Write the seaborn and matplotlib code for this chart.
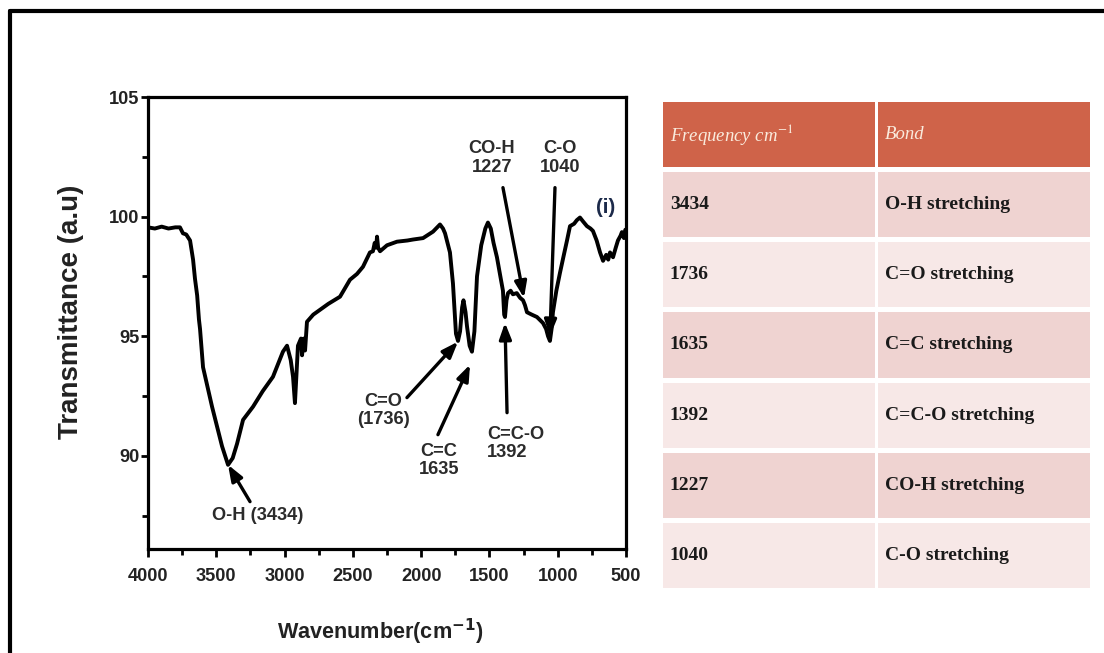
import matplotlib
matplotlib.use("Agg")
import matplotlib.pyplot as plt
from matplotlib import font_manager as fm
from matplotlib.patches import Rectangle
from matplotlib.lines import Line2D
from matplotlib.ticker import MultipleLocator
import seaborn as sns

# ---------------- data ----------------
wavenumber = [4000, 3950, 3900, 3850, 3800, 3766, 3744, 3720, 3692, 3670, 3656, 3640, 3627, 3619,
              3597, 3531, 3458, 3414, 3380, 3348, 3304, 3231, 3160, 3085, 3012, 2982, 2955, 2938,
              2924, 2912, 2902, 2880, 2872, 2860, 2850, 2836, 2790, 2741, 2680, 2594, 2521, 2470,
              2426, 2375, 2353, 2340, 2330, 2323, 2315, 2301, 2250, 2177, 2100, 2060, 1986, 1913,
              1862, 1840, 1825, 1789, 1767, 1745, 1730, 1715, 1700, 1690, 1675, 1664, 1645, 1628,
              1610, 1591, 1560, 1530, 1511, 1490, 1470, 1445, 1420, 1401, 1392, 1386, 1375, 1364,
              1345, 1328, 1300, 1275, 1254, 1240, 1225, 1190, 1152, 1108, 1085, 1071, 1057, 1045,
              1035, 1010, 983, 955, 932, 910, 880, 860, 837, 815, 786, 760, 742, 715, 690, 668,
              645, 630, 617, 595, 575, 559, 540, 530, 515, 505]
transmittance = [99.55, 99.5, 99.58, 99.5, 99.55, 99.55, 99.3, 99.25, 99.0, 98.2, 97.4, 96.7, 95.7, 95.3,
                 93.7, 92.05, 90.4, 89.62, 89.9, 90.5, 91.5, 92.05, 92.7, 93.3, 94.35, 94.6, 94.0, 93.3,
                 92.2, 93.5, 94.6, 94.9, 94.2, 94.9, 94.4, 95.6, 95.9, 96.1, 96.35, 96.65, 97.36, 97.6,
                 97.9, 98.5, 98.55, 98.9, 98.7, 99.16, 98.7, 98.55, 98.8, 98.95, 99.0, 99.04, 99.1, 99.37,
                 99.67, 99.5, 99.3, 98.5, 97.2, 95.1, 94.8, 95.2, 96.2, 96.5, 96.0, 95.4, 94.6, 94.35,
                 95.2, 97.5, 98.8, 99.5, 99.75, 99.5, 98.9, 98.3, 97.5, 96.9, 95.9, 95.8, 96.5, 96.8,
                 96.9, 96.75, 96.8, 96.6, 96.5, 96.3, 96.0, 95.9, 95.8, 95.55, 95.3, 95.0, 94.8, 95.3,
                 96.0, 96.9, 97.66, 98.4, 99.0, 99.6, 99.7, 99.85, 99.96, 99.8, 99.6, 99.5, 99.4, 99.0,
                 98.5, 98.15, 98.4, 98.2, 98.5, 98.3, 98.7, 99.0, 99.2, 99.35, 99.1, 99.45]

peak_labels = ["O-H (3434)", "C=O\n(1736)", "C=C\n1635", "C=C-O\n1392", "CO-H\n1227", "C-O\n1040"]
peak_wn = [3414, 1730, 1642, 1386, 1247, 1057]
peak_t = [89.62, 94.77, 93.81, 95.56, 96.6, 95.0]

table_header = ["Frequency cm$^{-1}$", "Bond"]
table_freq = ["3434", "1736", "1635", "1392", "1227", "1040"]
table_bond = ["O-H stretching", "C=O stretching", "C=C stretching",
              "C=C-O stretching", "CO-H stretching", "C-O stretching"]

x_label = "Wavenumber(cm$^{\\mathbf{-1}}$)"
y_label = "Transmittance (a.u)"
panel_tag = "(i)"

# ---------------- style ----------------
sns.set_theme(style="white")
names = {f.name for f in fm.fontManager.ttflist}
narrow = "Liberation Sans Narrow" in names
if narrow:
    SANS = ["Liberation Sans Narrow", "Liberation Sans", "DejaVu Sans"]
    k = 1.0
else:
    SANS = ["Liberation Sans", "DejaVu Sans"]
    k = 0.82
plt.rcParams["font.family"] = SANS
SERIF = ["Liberation Serif", "DejaVu Serif"]

W, H = 1104, 653
fig = plt.figure(figsize=(W / 100, H / 100), dpi=100)
fig.patch.set_facecolor("white")

ax = fig.add_axes([148 / W, 1 - 549 / H, 478 / W, 452 / H])
sns.lineplot(x=wavenumber, y=transmittance, sort=False, estimator=None,
             color="black", linewidth=2.8, ax=ax)
ax.set_xlim(4000, 500)
ax.set_ylim(86.1, 105)
ax.xaxis.set_major_locator(MultipleLocator(500))
ax.xaxis.set_minor_locator(MultipleLocator(250))
ax.yaxis.set_major_locator(MultipleLocator(5))
ax.yaxis.set_minor_locator(MultipleLocator(2.5))
for s in ax.spines.values():
    s.set_visible(True)
    s.set_linewidth(2.3)
    s.set_color("black")
ax.tick_params(which="both", direction="out", width=2, color="black",
               bottom=True, left=True, top=False, right=False)
ax.tick_params(which="major", length=6)
ax.tick_params(which="minor", length=4)
ax.tick_params(axis="x", pad=8, labelsize=16 * k, labelcolor="#222222")
ax.tick_params(axis="y", pad=1, labelsize=16 * k, labelcolor="#222222")
ax.tick_params(axis="y", which="major", length=5)
plt.setp(ax.get_xticklabels() + ax.get_yticklabels(), fontweight="bold")

ax.set_xlabel(x_label, fontsize=19 * k, fontweight="bold", color="#222222")
ax.xaxis.set_label_coords(0.485, -0.184)
ax.xaxis.label.set_va("center")
ax.set_ylabel(y_label, fontsize=20, fontweight="bold", color="#222222",
              family=["Liberation Sans", "DejaVu Sans"])
ax.yaxis.set_label_coords(-0.162, 0.524)
ax.yaxis.label.set_va("center")

# annotations (text placement is layout)
text_pos = [(3195, 87.49, "center"), (2279, 91.88, "center"), (1869, 89.79, "center"),
            (1518, 90.5, "left"), (1481, 102.45, "center"), (983, 102.45, "center")]
arrow_tail = [(3253, 88.08), (2104, 92.43), (1877, 90.88), (1371, 91.8),
              (1401, 101.21), (1020, 101.21)]
for lab, (tx, ty, ha), (ax0, ay0), px, py in zip(peak_labels, text_pos, arrow_tail, peak_wn, peak_t):
    ax.text(tx, ty, lab, ha=ha, va="center", multialignment=ha, linespacing=1.1,
            fontsize=16 * k, fontweight="bold", color="#2b2b2b")
    ax.annotate("", xy=(px, py), xytext=(ax0, ay0),
                arrowprops=dict(arrowstyle="-|>,head_length=0.8,head_width=0.3",
                                lw=2.4, color="black", shrinkA=0, shrinkB=0))
ax.text(650, 100.4, panel_tag, ha="center", va="center", fontsize=18 * k,
        fontweight="bold", color="#1c2a4a")

# ---------------- table ----------------
tax = fig.add_axes([663 / W, 1 - 588 / H, 427 / W, 486 / H])
nrows = len(table_freq) + 1
gap = 0.072
tax.set_xlim(0, 1)
tax.set_ylim(nrows - gap, 0)
tax.axis("off")
c_head, c_odd, c_even = "#CF6349", "#EFD3D1", "#F7E8E7"
col_x = [0.0, 0.5035]
col_w = [0.4965, 0.4965]
text_x = [0.016, 0.52]
rows = [table_header] + [[f, b] for f, b in zip(table_freq, table_bond)]
for i, row in enumerate(rows):
    color = c_head if i == 0 else (c_odd if i % 2 == 1 else c_even)
    for j, cell in enumerate(row):
        tax.add_patch(Rectangle((col_x[j], i), col_w[j], 1 - gap, facecolor=color,
                                edgecolor="none"))
        if i == 0:
            tax.text(text_x[j], i + (1 - gap) / 2, cell, ha="left", va="center",
                     fontsize=13.5, fontstyle="italic", color="#FAEBDD",
                     family=SERIF, math_fontfamily="stix")
        else:
            tax.text(text_x[j], i + (1 - gap) / 2, cell, ha="left", va="center",
                     fontsize=14, fontweight="bold", color="#1a1a1a", family=SERIF)

# figure frame (top and left edges)
fig.add_artist(Line2D([10 / W, 1], [1 - 11 / H, 1 - 11 / H], transform=fig.transFigure,
                      color="black", lw=3))
fig.add_artist(Line2D([10 / W, 10 / W], [0, 1 - 11 / H], transform=fig.transFigure,
                      color="black", lw=3))

fig.savefig("out.png", dpi=100, facecolor="white")
